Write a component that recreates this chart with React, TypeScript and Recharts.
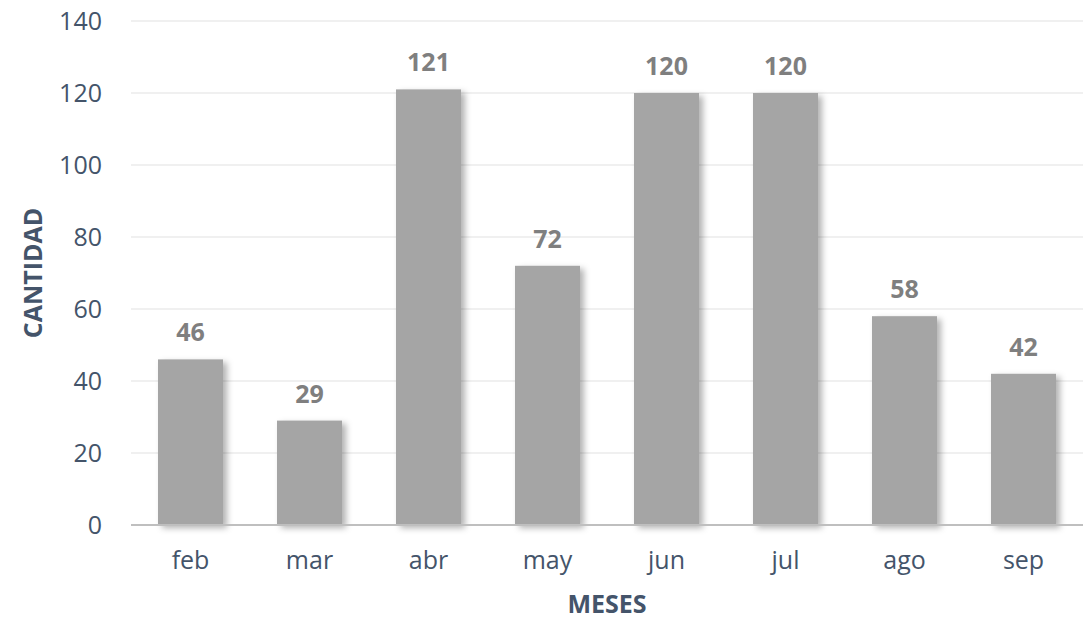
import { BarChart, Bar, XAxis, YAxis, CartesianGrid, LabelList } from "recharts"

const months = ["feb", "mar", "abr", "may", "jun", "jul", "ago", "sep"]
const counts = [46, 29, 121, 72, 120, 120, 58, 42]
const yTicks = [0, 20, 40, 60, 80, 100, 120, 140]

const data = months.map((m, i) => ({ month: m, cantidad: counts[i] }))

const font = "'Open Sans', 'Noto Sans', sans-serif"
const navy = "#44546a"

const ShadowBar = (props: any) => {
  const { x, y, width, height } = props
  return (
    <rect
      x={x}
      y={y}
      width={width}
      height={height}
      fill="#a5a5a5"
      style={{ filter: "drop-shadow(4px 3px 3px rgba(0,0,0,0.3))" }}
    />
  )
}

export default function App() {
  return (
    <div style={{ position: "absolute", left: 0, top: 0, background: "#fff", fontFamily: font }}>
      <BarChart width={1089} height={622} data={data} margin={{ top: 21, right: 6, bottom: 0, left: 0 }}>
        <CartesianGrid vertical={false} stroke="#f0f0f0" strokeWidth={2} />
        <XAxis
          dataKey="month"
          height={97}
          tickLine={false}
          tickSize={0}
          axisLine={{ stroke: "#bfbfbf", strokeWidth: 2 }}
          tick={{ fill: navy, fontSize: 25, fontFamily: font }}
          tickMargin={26}
          label={{ value: "MESES", position: "insideBottom", offset: 9, fill: navy, fontSize: 25, fontWeight: 700, fontFamily: font }}
        />
        <YAxis
          width={131}
          domain={[0, 140]}
          ticks={yTicks}
          tickLine={false}
          axisLine={false}
          tickSize={0}
          tickMargin={29}
          tick={{ fill: navy, fontSize: 25, fontFamily: font }}
          label={{ value: "CANTIDAD", angle: -90, position: "insideLeft", offset: 33, fill: navy, fontSize: 25, fontWeight: 700, fontFamily: font, style: { textAnchor: "middle" } }}
        />
        <Bar dataKey="cantidad" barSize={65} shape={ShadowBar} isAnimationActive={false}>
          <LabelList dataKey="cantidad" position="top" offset={18} fill="#7f7f7f" fontSize={25} fontWeight={700} fontFamily={font} />
        </Bar>
      </BarChart>
    </div>
  )
}
